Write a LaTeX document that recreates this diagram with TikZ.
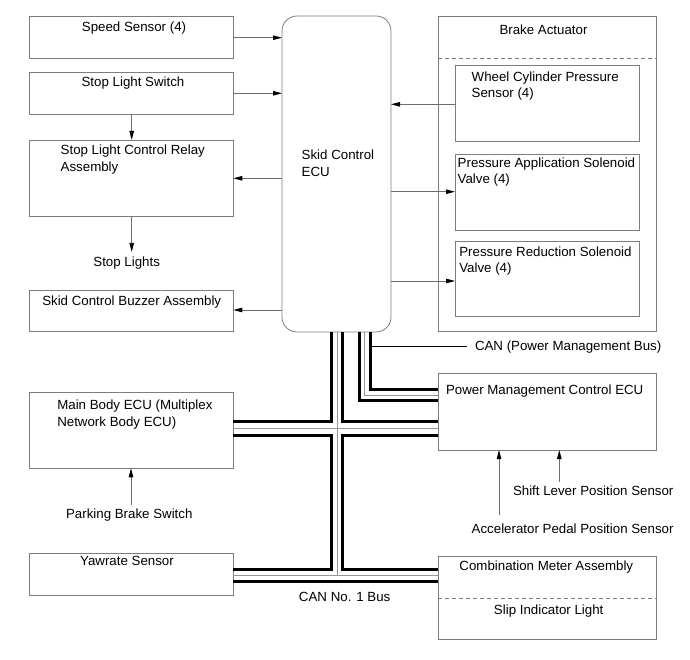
\documentclass[tikz,border=0pt]{standalone}
\usepackage{fontspec}
\setmainfont{Liberation Sans}
\usetikzlibrary{arrows.meta,fit}
\definecolor{boxgray}{RGB}{125,125,125}
\definecolor{linegray}{RGB}{110,110,110}
\definecolor{busgray}{RGB}{150,150,150}
\tikzset{
  box/.style={draw=boxgray, line width=0.8bp, inner sep=0pt, outer sep=0pt},
  txt/.style={font=\fontsize{13.3bp}{16.5bp}\selectfont, inner sep=0pt, outer sep=0pt, text=black},
  arr/.style={draw=linegray, line width=0.8bp, -{Triangle[length=9bp,width=4.5bp,color=black]}},
  rail/.style={line width=3bp, draw=black, line join=miter, line cap=butt},
  mid/.style={line width=1bp, draw=busgray, line cap=butt},
  sepline/.style={draw=boxgray, line width=0.8bp, dash pattern=on 4bp off 3bp},
}
\begin{document}
\begin{tikzpicture}[x=1bp,y=-1bp]
\fill[white] (0,0) rectangle (690,660);
\useasboundingbox (0,0) rectangle (690,660);

% boxes
\node[box, fit={(29.3,16) (233.3,58.3)}] (ss) {};
\node[box, fit={(29.3,72.7) (233.3,114.3)}] (sls) {};
\node[box, fit={(29.3,140) (233.3,216)}] (rel) {};
\node[box, fit={(29.3,290) (233.3,331.7)}] (buz) {};
\node[box, fit={(29.3,392.7) (233.3,468.3)}] (mb) {};
\node[box, fit={(29.3,553.3) (233.3,595)}] (yaw) {};
\node[box, rounded corners=15bp, fit={(282,16) (391,332)}] (ecu) {};
\node[box, fit={(438.3,16) (656,331.7)}] (ba) {};
\node[box, fit={(455,65) (639.3,141.7)}] (wc) {};
\node[box, fit={(455,154.3) (639.3,230)}] (pa) {};
\node[box, fit={(455,241.7) (639.3,316.7)}] (pr) {};
\node[box, fit={(438.3,373.3) (656.7,450)}] (pm) {};
\node[box, fit={(438.3,556) (656.7,639.3)}] (cm) {};
\draw[sepline] (ba.west |- 0,58.3) -- (ba.east |- 0,58.3);
\draw[sepline] (cm.west |- 0,598.3) -- (cm.east |- 0,598.3);

% texts
\node[txt, anchor=base] (tss) at (134,31.5) {Speed Sensor (4)};
\node[txt, anchor=base] (tsls) at (133,86.3) {Stop Light Switch};
\node[txt, anchor=north west, align=left] (trel) at (60.7,145.1) {Stop Light Control Relay\\Assembly};
\node[txt, anchor=base] (sl) at (126.7,266.5) {Stop Lights};
\node[txt, anchor=base] (tbuz) at (131.7,305.8) {Skid Control Buzzer Assembly};
\node[txt, anchor=north west, align=left] (tmb) at (57.3,400.1) {Main Body ECU (Multiplex\\Network Body ECU)};
\node[txt, anchor=base] (pbs) at (129.3,518.1) {Parking Brake Switch};
\node[txt, anchor=base] (tyaw) at (127,565.8) {Yawrate Sensor};
\node[txt, anchor=north west, align=left] (tecu) at (301.7,150.1) {Skid Control\\ECU};
\node[txt, anchor=base] (tba) at (543.5,34.1) {Brake Actuator};
\node[txt, anchor=north west, align=left] (twc) at (471.7,71.8) {Wheel Cylinder Pressure\\Sensor (4)};
\node[txt, anchor=north west, align=left] (tpa) at (457.7,157.4) {Pressure Application Solenoid\\Valve (4)};
\node[txt, anchor=north west, align=left] (tpr) at (459.3,246.8) {Pressure Reduction Solenoid\\Valve (4)};
\node[txt, anchor=base west] (tcan) at (475,350.8) {CAN (Power Management Bus)};
\node[txt, anchor=base west] (tpm) at (446,394.1) {Power Management Control ECU};
\node[txt, anchor=base west] (shift) at (513,495.5) {Shift Lever Position Sensor};
\node[txt, anchor=base west] (accel) at (471.7,533.1) {Accelerator Pedal Position Sensor};
\node[txt, anchor=base] (tcm) at (546.3,570.5) {Combination Meter Assembly};
\node[txt, anchor=base] (tsil) at (548.7,614.8) {Slip Indicator Light};
\node[txt, anchor=base] (can1) at (344.7,601.5) {CAN No. 1 Bus};

% arrows
\draw[arr] (ss.east |- 0,37.7) -- (ecu.west |- 0,37.7);
\draw[arr] (sls.east |- 0,93.3) -- (ecu.west |- 0,93.3);
\draw[arr] (ecu.west |- 0,178.3) -- (rel.east |- 0,178.3);
\draw[arr] (sls.south -| 131.7,0) -- (rel.north -| 131.7,0);
\draw[arr, shorten >=5bp] (rel.south -| 131.7,0) -- (sl.north -| 131.7,0);
\draw[arr] (ecu.west |- 0,310) -- (buz.east |- 0,310);
\draw[arr] (wc.west |- 0,104.3) -- (ecu.east |- 0,104.3);
\draw[arr] (ecu.east |- 0,191.7) -- (pa.west |- 0,191.7);
\draw[arr] (ecu.east |- 0,281) -- (pr.west |- 0,281);
\draw[arr, shorten <=3.4bp] (pbs.north -| 131,0) -- (mb.south -| 131,0);
\draw[arr, shorten <=8.4bp] (accel.north -| 499,0) -- (pm.south -| 499,0);
\draw[arr, shorten <=4bp] (shift.north -| 559.3,0) -- (pm.south -| 559.3,0);

% main CAN No.1 bus
\draw[mid] (ecu.south -| 337,0) -- (337,575);
\draw[mid] (mb.east |- 0,428) -- (pm.west |- 0,428);
\draw[mid] (yaw.east |- 0,575) -- (cm.west |- 0,575);
\draw[rail] (ecu.south -| 331.5,0) -- (331.5,421) -- (mb.east |- 0,421);
\draw[rail] (ecu.south -| 342.5,0) -- (342.5,421) -- (pm.west |- 0,421);
\draw[rail] (mb.east |- 0,435) -- (331.5,435) -- (331.5,569.5) -- (yaw.east |- 0,569.5);
\draw[rail] (pm.west |- 0,435) -- (342.5,435) -- (342.5,569.5) -- (cm.west |- 0,569.5);
\draw[rail] (yaw.east |- 0,581) -- (cm.west |- 0,581);

% power management bus
\draw[mid] (ecu.south -| 364.5,0) -- (364.5,395) -- (pm.west |- 0,395);
\draw[rail] (ecu.south -| 359,0) -- (359,400) -- (pm.west |- 0,400);
\draw[rail] (ecu.south -| 370.5,0) -- (370.5,389.5) -- (pm.west |- 0,389.5);
\coordinate (canend) at (467,346);
\draw[draw=black, line width=0.8bp] (370.5,346) -- (canend);
\end{tikzpicture}
\end{document}
